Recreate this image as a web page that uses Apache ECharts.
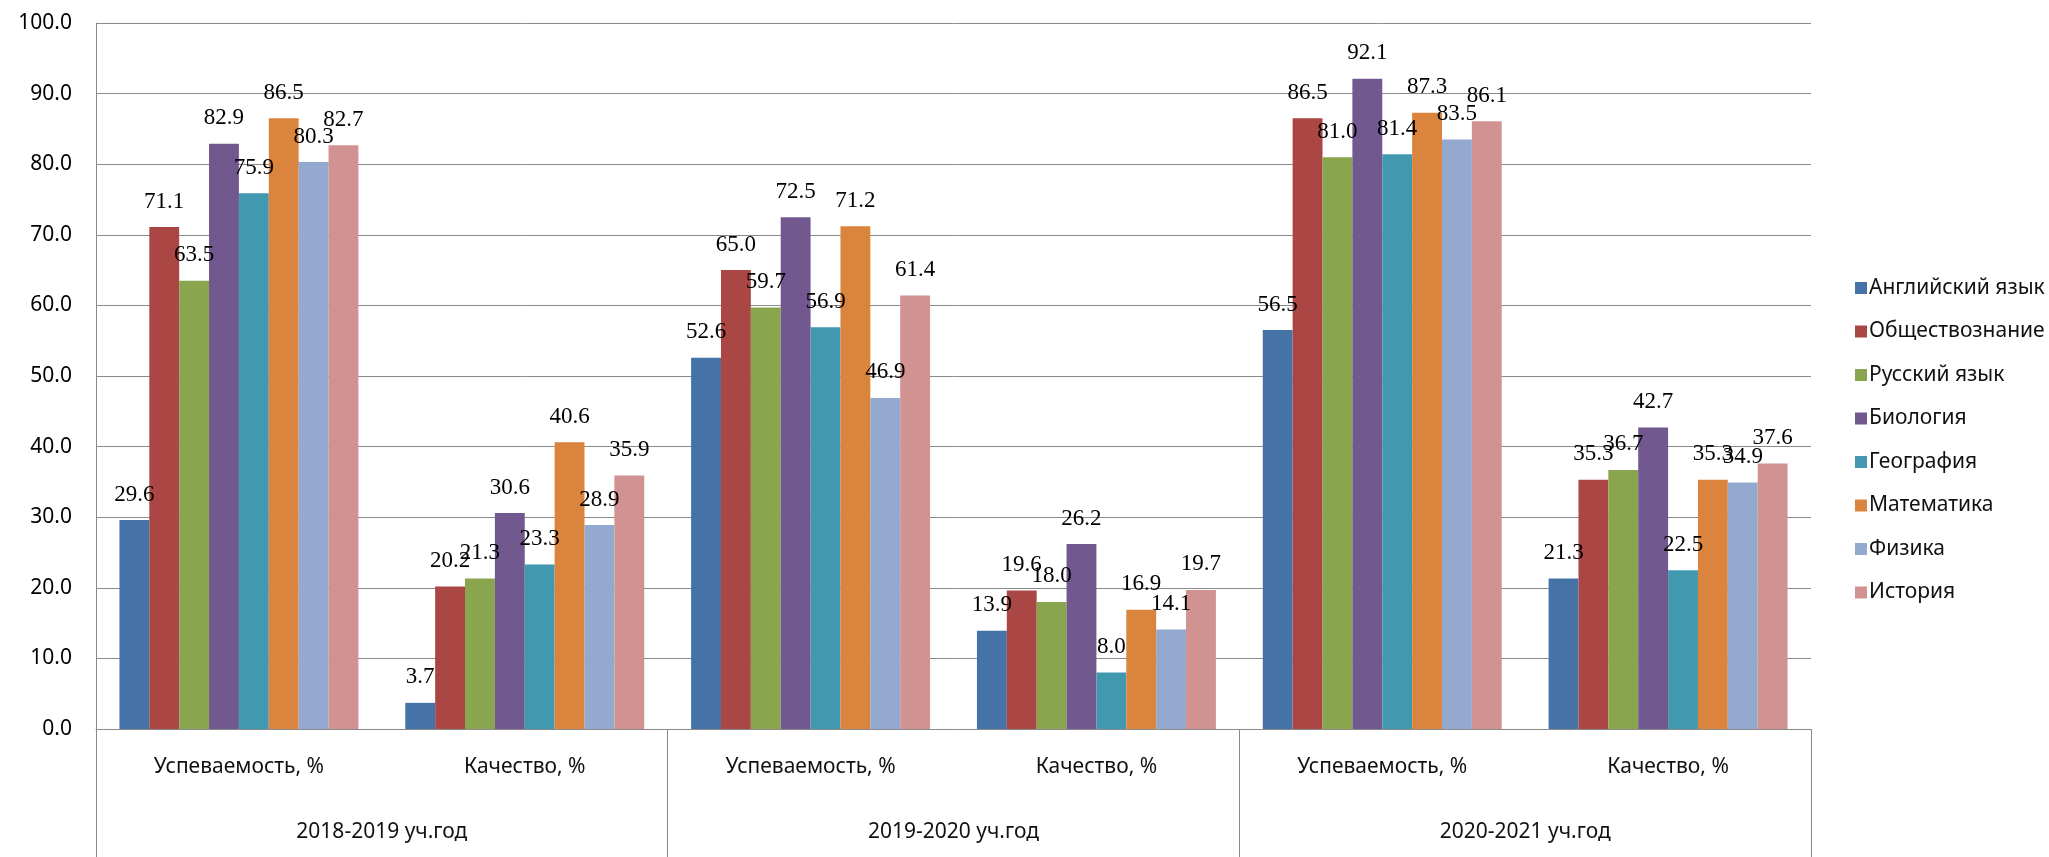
<!DOCTYPE html>
<html>
<head>
<meta charset="utf-8">
<script src="https://cdn.jsdelivr.net/npm/echarts@6/dist/echarts.min.js"></script>
<style>
html,body{margin:0;padding:0;background:#fff;}
#chart{width:2049px;height:857px;}
</style>
</head>
<body>
<div id="chart"></div>
<script>
const categories = ['Успеваемость, %', 'Качество, %', 'Успеваемость, %', 'Качество, %', 'Успеваемость, %', 'Качество, %'];
const groups = ['2018-2019 уч.год', '2019-2020 уч.год', '2020-2021 уч.год'];
const seriesNames = ['Английский язык', 'Обществознание', 'Русский язык', 'Биология', 'География', 'Математика', 'Физика', 'История'];
const english   = [29.6, 3.7, 52.6, 13.9, 56.5, 21.3];
const social    = [71.1, 20.2, 65.0, 19.6, 86.5, 35.3];
const russian   = [63.5, 21.3, 59.7, 18.0, 81.0, 36.7];
const biology   = [82.9, 30.6, 72.5, 26.2, 92.1, 42.7];
const geography = [75.9, 23.3, 56.9, 8.0, 81.4, 22.5];
const maths     = [86.5, 40.6, 71.2, 16.9, 87.3, 35.3];
const physics   = [80.3, 28.9, 46.9, 14.1, 83.5, 34.9];
const history   = [82.7, 35.9, 61.4, 19.7, 86.1, 37.6];
const seriesData = [english, social, russian, biology, geography, maths, physics, history];
const colors = ['#4572A7', '#AA4643', '#89A54E', '#71588F', '#4198AF', '#DB843D', '#93A9CF', '#D19392'];

const gridColor = '#8a8a8a';
const sansFont = 'Noto Sans';
const chart = echarts.init(document.getElementById('chart'), null, {renderer: 'canvas'});
chart.setOption({
  animation: false,
  backgroundColor: '#fff',
  color: colors,
  grid: {left: 96, right: 238, top: 23, bottom: 128, containLabel: false},
  legend: {
    orient: 'vertical',
    left: 1850,
    top: 271,
    itemWidth: 12,
    itemHeight: 12,
    itemGap: 19.5,
    icon: 'rect',
    textStyle: {fontFamily: sansFont, fontSize: 21, color: '#111', lineHeight: 24, padding: [0, 0, 0, -3]},
    data: seriesNames
  },
  xAxis: [
    {
      type: 'category',
      data: categories,
      position: 'bottom',
      axisLine: {show: true, lineStyle: {color: gridColor, width: 1}},
      axisTick: {show: false},
      axisLabel: {margin: 28, fontFamily: sansFont, fontSize: 21, color: '#111', interval: 0}
    },
    {
      type: 'category',
      data: groups,
      position: 'bottom',
      axisLine: {show: false},
      axisTick: {show: true, length: 128, inside: false, lineStyle: {color: gridColor, width: 1}},
      axisLabel: {margin: 93, fontFamily: sansFont, fontSize: 21, color: '#111', interval: 0}
    }
  ],
  yAxis: {
    type: 'value',
    min: 0,
    max: 100,
    interval: 10,
    axisLine: {show: true, lineStyle: {color: gridColor, width: 1}},
    axisTick: {show: false},
    splitLine: {show: true, lineStyle: {color: gridColor, width: 1}},
    axisLabel: {margin: 24, fontFamily: sansFont, fontSize: 21, color: '#000', formatter: v => v.toFixed(1)}
  },
  series: seriesNames.map((name, i) => ({
    name: name,
    type: 'bar',
    xAxisIndex: 0,
    data: seriesData[i],
    barGap: '0%',
    barCategoryGap: '16.4%',
    itemStyle: {color: colors[i]},
    label: {
      show: true,
      position: 'top',
      distance: 14,
      fontFamily: 'Liberation Serif',
      fontSize: 23,
      color: '#000',
      formatter: p => p.value.toFixed(1)
    }
  }))
});
</script>
</body>
</html>
